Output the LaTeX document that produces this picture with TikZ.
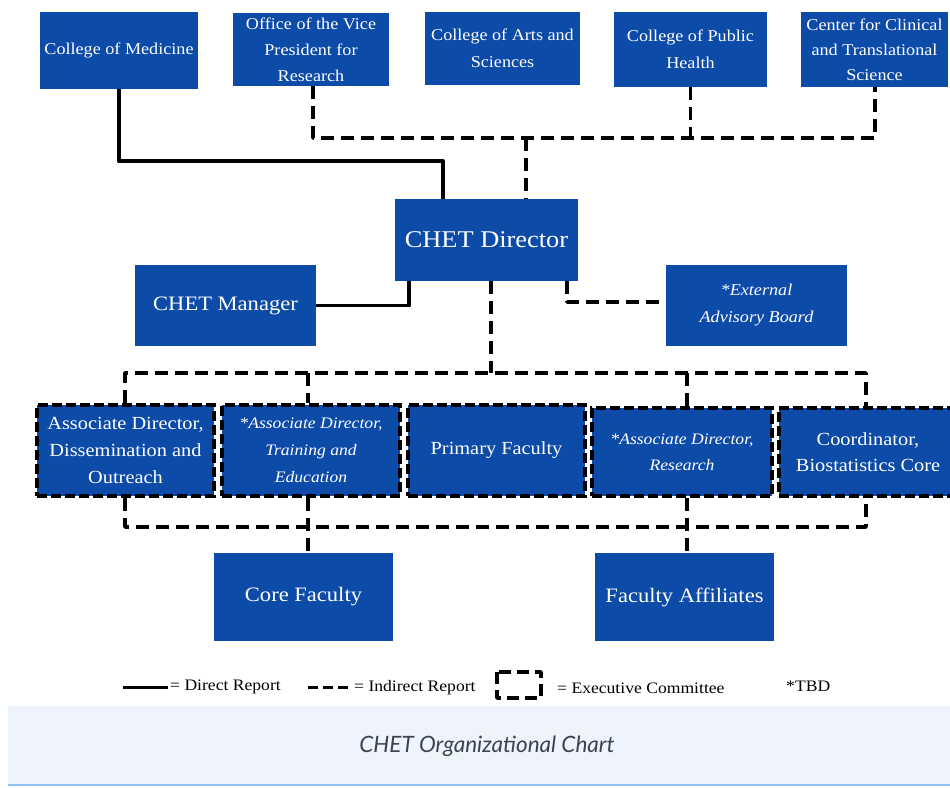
\documentclass[tikz,border=0pt]{standalone}
\usepackage{fontspec}
\setmainfont{Liberation Serif}[FakeStretch=1.1]
\newfontfamily\capfont{Lato}
\usetikzlibrary{calc}
\definecolor{boxblue}{HTML}{0D4BA8}
\definecolor{capbg}{HTML}{EEF3FC}
\definecolor{capline}{HTML}{90C2F5}
\definecolor{captext}{HTML}{3A4450}
\tikzset{
  box/.style={fill=boxblue, text=white, align=center, inner sep=2pt, font=\fontsize{16.5}{26}\selectfont},
  exec/.style={box, draw=black, line width=3.8pt, dash pattern=on 10pt off 4pt, font=\fontsize{18.5}{27}\selectfont},
  direct/.style={draw=black, line width=3.8pt, line join=round},
  indirect/.style={draw=black, line width=3.8pt, dash pattern=on 13pt off 7pt, line join=round},
  legtext/.style={font=\fontsize{16}{18}\selectfont, anchor=west, inner sep=1pt}
}
\begin{document}
\begin{tikzpicture}[x=1pt,y=-1pt]
\useasboundingbox (0,0) rectangle (950,787);
\fill[white] (0,0) rectangle (950,787);
% top row
\node[box, minimum width=158pt, minimum height=77pt] (med) at (119,50.5) {College of Medicine};
\node[box, minimum width=156pt, minimum height=73pt] (vp) at (311,49.5) {Office of the Vice\\President for\\Research};
\node[box, minimum width=155pt, minimum height=73pt, font=\fontsize{16.5}{27}\selectfont] (arts) at (502.5,48.5) {College of Arts and\\Sciences};
\node[box, minimum width=153pt, minimum height=75pt, font=\fontsize{16.5}{27}\selectfont] (ph) at (690.5,49.5) {College of Public\\Health};
\node[box, minimum width=147pt, minimum height=75pt, font=\fontsize{16.5}{25}\selectfont] (ccts) at (874.5,49.5) {Center for Clinical\\and Translational\\Science};
% director level
\node[box, minimum width=183pt, minimum height=82pt, font=\fontsize{24}{28}\selectfont] (dir) at (486.5,240) {CHET Director};
\node[box, minimum width=181pt, minimum height=81pt, font=\fontsize{20.5}{24}\selectfont] (man) at (225.5,305.5) {CHET Manager};
\node[box, minimum width=181pt, minimum height=81pt, font=\fontsize{16.5}{27}\selectfont\itshape] (ext) at (756.5,305.5) {*External\\Advisory Board};
% executive row
\node[exec, minimum width=177pt, minimum height=91pt] (ad1) at (125.5,450.5) {Associate Director,\\Dissemination and\\Outreach};
\node[exec, minimum width=178pt, minimum height=91pt, font=\fontsize{16}{27}\selectfont\itshape] (ad2) at (311,450.5) {*Associate Director,\\Training and\\Education};
\node[exec, minimum width=177pt, minimum height=91pt] (pf) at (496.5,450.5) {Primary Faculty};
\node[exec, minimum width=180pt, minimum height=88pt, font=\fontsize{16}{26}\selectfont\itshape] (ad3) at (682,452) {*Associate Director,\\Research};
\node[exec, minimum width=178pt, minimum height=88pt, font=\fontsize{18.5}{26}\selectfont] (coord) at (868,452) {Coordinator,\\Biostatistics Core};
% bottom
\node[box, minimum width=179pt, minimum height=88pt, font=\fontsize{20.5}{24}\selectfont] (core) at (303.5,597) {Core Faculty};
\node[box, minimum width=179pt, minimum height=88pt, font=\fontsize{20.5}{24}\selectfont] (aff) at (684.5,597) {Faculty Affiliates};
% connectors top
\coordinate (jt) at (526,138);
\draw[direct] (med.south) -- ++(0,72) -| ([xshift=-43.5pt]dir.north);
\draw[indirect] ([xshift=2pt]vp.south) |- (jt) -| ([xshift=0.5pt]ccts.south);
\draw[indirect] (ph.south) -- (ph.south |- jt);
\draw[indirect] (jt) -- ([xshift=39.5pt]dir.north);
% director to manager / ext
\draw[direct] ([xshift=-77.5pt]dir.south) |- (man.east);
\draw[indirect] ([xshift=80.5pt]dir.south) |- ([yshift=3.5pt]ext.west);
% director to exec row
\coordinate (jr) at (491,373);
\draw[indirect] ([xshift=4.5pt]dir.south) -- (jr);
\draw[indirect] (ad1.north -| 125,0) -- (125,373) -- (866,373) -- (coord.north -| 866,0);
\draw[indirect] (308,373) -- (ad2.north -| 308,0);
\draw[indirect] (687,373) -- (ad3.north -| 687,0);
% exec row to bottom
\draw[indirect] (ad1.south -| 125,0) -- (125,527) -- (866,527) -- (coord.south -| 866,0);
\draw[indirect] (ad2.south -| 308,0) -- (core.north -| 308,0);
\draw[indirect] (ad3.south -| 687,0) -- (aff.north -| 687,0);
% legend
\coordinate (l1a) at (123,687);
\coordinate (l1b) at (168,687);
\draw[direct, line width=3pt] (l1a) -- (l1b);
\node[legtext] (lt1) at (169,687) {= Direct Report};
\coordinate (l2a) at (308,687);
\coordinate (l2b) at (352,687);
\draw[indirect, line width=3pt, dash pattern=on 10pt off 5pt] (l2a) -- (l2b);
\node[legtext] (lt2) at (353,688) {= Indirect Report};
\coordinate (l3a) at (497,672);
\coordinate (l3b) at (541,698);
\draw[indirect, line width=3.5pt, dash pattern=on 12pt off 6pt] (l3a) rectangle (l3b);
\node[legtext] (lt3) at (556,688) {= Executive Committee};
\node[legtext] (lt4) at (785,686) {*TBD};
% caption band
\fill[capbg] (8,706) rectangle (950,785);
\draw[capline, line width=2pt] (8,785) -- (950,785);
\node[font=\capfont\itshape\fontsize{22.5}{26}\selectfont, text=captext] (cap) at (487,746) {CHET Organizational Chart};
\end{tikzpicture}
\end{document}
